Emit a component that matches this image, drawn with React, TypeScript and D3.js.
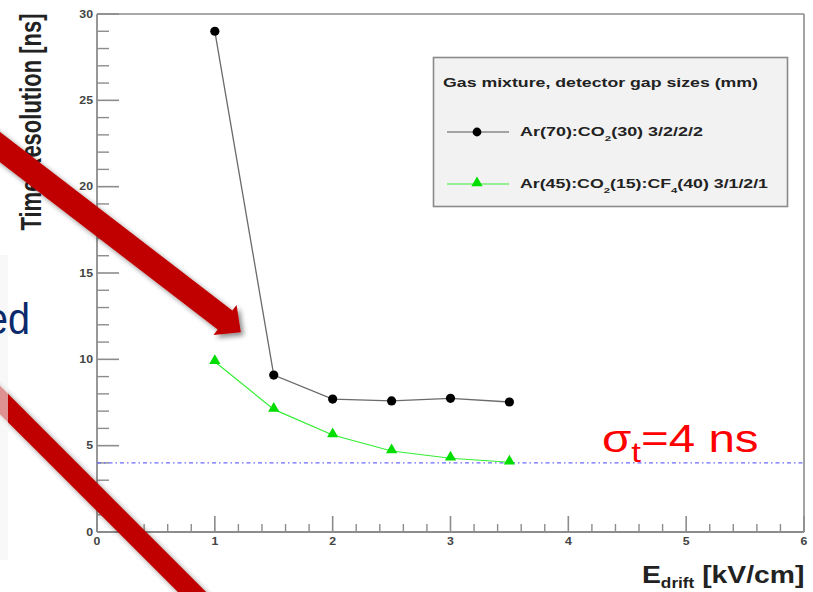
import React from "react";
import * as d3 from "d3";

const W = 813;
const H = 592;

// data
const xValues = [1, 1.5, 2, 2.5, 3, 3.5];
const arCo2 = [29.0, 9.09, 7.7, 7.59, 7.74, 7.53];
const arCo2Cf4 = [9.86, 7.1, 5.62, 4.69, 4.27, 4.04];
const threshold = 4;
const xTickLabels = [0, 1, 2, 3, 4, 5, 6];
const yTickLabels = [0, 5, 10, 15, 20, 25, 30];

const FONT = "Liberation Sans, Arial, Helvetica, sans-serif";
const SX = 1.23; // horizontal stretch of the slide image

function arrowPath(sx: number, sy: number, bx: number, by: number, shaftHalf: number, headHalf: number, headLen: number) {
  const dx = bx - sx, dy = by - sy;
  const len = Math.hypot(dx, dy);
  const ux = dx / len, uy = dy / len;
  const nx = -uy, ny = ux;
  const tx = bx + ux * headLen, ty = by + uy * headLen;
  const p = [
    [sx + nx * shaftHalf, sy + ny * shaftHalf],
    [bx + nx * shaftHalf, by + ny * shaftHalf],
    [bx + nx * headHalf, by + ny * headHalf],
    [tx, ty],
    [bx - nx * headHalf, by - ny * headHalf],
    [bx - nx * shaftHalf, by - ny * shaftHalf],
    [sx - nx * shaftHalf, sy - ny * shaftHalf],
  ];
  return "M" + p.map((q) => q.join(",")).join("L") + "Z";
}

export default function App() {
  const x = d3.scaleLinear().domain([0, 6]).range([97, 804]);
  const y = d3.scaleLinear().domain([0, 30]).range([532, 14]);

  const xMinor = d3.range(0, 6.001, 0.2).filter((v) => Math.abs(v - Math.round(v)) > 1e-6);
  const yMinor = d3.range(0, 30.001, 1).filter((v) => v % 5 !== 0);

  const line = d3
    .line<number>()
    .x((_, i) => x(xValues[i]))
    .y((d) => y(d));

  const tri = d3.symbol().type(d3.symbolTriangle).size(55)();

  const axisColor = "#8c8c8c";

  return (
    <svg width={W} height={H} style={{ position: "absolute", left: 0, top: 0, background: "#fff" }}>
      <defs>
        <filter id="shadow" x="-20%" y="-20%" width="140%" height="140%">
          <feDropShadow dx="3" dy="3" stdDeviation="2.5" floodColor="#000" floodOpacity="0.45" />
        </filter>
      </defs>
      <rect x={0} y={0} width={W} height={H} fill="#fff" />

      {/* frame */}
      <line x1={x(0)} x2={x(6)} y1={y(30)} y2={y(30)} stroke={axisColor} strokeWidth={1.6} />
      <line x1={x(6)} x2={x(6)} y1={y(30)} y2={y(0)} stroke={axisColor} strokeWidth={1.6} />
      <line x1={x(0)} x2={x(6)} y1={y(0)} y2={y(0)} stroke={axisColor} strokeWidth={1.8} />
      <line x1={x(0)} x2={x(0)} y1={y(30)} y2={y(0)} stroke={axisColor} strokeWidth={1.8} />

      {/* x ticks */}
      {xTickLabels.map((v) => (
        <g key={"xt" + v}>
          <line x1={x(v)} x2={x(v)} y1={y(0)} y2={y(0) - 16} stroke={axisColor} strokeWidth={1.6} />
          <text
            transform={`translate(${x(v)},545) scale(${SX},1)`}
            textAnchor="middle"
            fontFamily={FONT}
            fontWeight="bold"
            fontSize={10}
            fill="#444"
          >
            {v}
          </text>
        </g>
      ))}
      {xMinor.map((v, i) => (
        <line key={"xm" + i} x1={x(v)} x2={x(v)} y1={y(0)} y2={y(0) - 8} stroke={axisColor} strokeWidth={1.4} />
      ))}

      {/* y ticks */}
      {yTickLabels.map((v) => (
        <g key={"yt" + v}>
          <line x1={x(0)} x2={x(0) + 22} y1={y(v)} y2={y(v)} stroke={axisColor} strokeWidth={1.6} />
          <text
            transform={`translate(93,${y(v) + 3.5}) scale(${SX},1)`}
            textAnchor="end"
            fontFamily={FONT}
            fontWeight="bold"
            fontSize={10}
            fill="#444"
          >
            {v}
          </text>
        </g>
      ))}
      {yMinor.map((v) => (
        <line key={"ym" + v} x1={x(0)} x2={x(0) + 12} y1={y(v)} y2={y(v)} stroke={axisColor} strokeWidth={1.4} />
      ))}

      {/* threshold line */}
      <line
        x1={x(0)}
        x2={x(6)}
        y1={y(threshold)}
        y2={y(threshold)}
        stroke="#6a6aff"
        strokeWidth={1.2}
        strokeDasharray="4 3 1.5 3"
      />

      {/* series 1 */}
      <path d={line(arCo2) || ""} fill="none" stroke="#6a6a6a" strokeWidth={1.3} />
      {arCo2.map((v, i) => (
        <circle key={"c" + i} cx={x(xValues[i])} cy={y(v)} r={4.6} fill="#000" />
      ))}

      {/* series 2 */}
      <path d={line(arCo2Cf4) || ""} fill="none" stroke="#33ee33" strokeWidth={1.2} />
      {arCo2Cf4.map((v, i) => (
        <path key={"t" + i} d={tri || ""} transform={`translate(${x(xValues[i])},${y(v) - 1})`} fill="#00dd00" />
      ))}

      {/* legend */}
      <rect x={433.5} y={57.5} width={354} height={149} fill="#f2f2f2" stroke="#8a8a8a" strokeWidth={1.6} />
      <text x={443} y={87} fontFamily={FONT} fontWeight="bold" fontSize={12.5} fill="#222" textLength={315} lengthAdjust="spacingAndGlyphs">
        Gas mixture, detector gap sizes (mm)
      </text>
      <line x1={447} x2={509} y1={132} y2={132} stroke="#555" strokeWidth={1.2} />
      <circle cx={477} cy={132} r={4.4} fill="#000" />
      <text x={520} y={136} fontFamily={FONT} fontWeight="bold" fontSize={12.5} fill="#222" textLength={183} lengthAdjust="spacingAndGlyphs">
        Ar(70):CO<tspan fontSize={8} dy={5}>2</tspan>
        <tspan dy={-5}>(30) 3/2/2/2</tspan>
      </text>
      <line x1={447} x2={509} y1={184} y2={184} stroke="#33ee33" strokeWidth={1.2} />
      <path d={tri || ""} transform={`translate(477,183)`} fill="#00dd00" />
      <text x={520} y={188} fontFamily={FONT} fontWeight="bold" fontSize={12.5} fill="#222" textLength={248} lengthAdjust="spacingAndGlyphs">
        Ar(45):CO<tspan fontSize={8} dy={5}>2</tspan>
        <tspan dy={-5}>(15):CF</tspan>
        <tspan fontSize={8} dy={5}>4</tspan>
        <tspan dy={-5}>(40) 3/1/2/1</tspan>
      </text>

      {/* axis titles */}
      <text
        transform={`translate(41,122) scale(1.3,1) rotate(-90)`}
        textAnchor="middle"
        fontFamily={FONT}
        fontWeight="bold"
        fontSize={22}
        fill="#222"
      >
        Time Resolution [ns]
      </text>
      <text
        transform={`translate(642,583) scale(${SX},1)`}
        fontFamily={FONT}
        fontWeight="bold"
        fontSize={23}
        fill="#222"
      >
        E<tspan fontSize={14} dy={5}>drift</tspan>
        <tspan dy={-5}> [kV/cm]</tspan>
      </text>

      {/* annotation */}
      <text transform={`translate(602,452) scale(1.25,1)`} fontFamily={FONT} fontSize={38} fill="#ff0000">
        σ<tspan fontSize={28} dy={10}>t</tspan>
        <tspan dy={-10}>=4 ns</tspan>
      </text>

      {/* slide decorations: arrows */}
      <g filter="url(#shadow)">
        <path d={arrowPath(-30, 124, 225, 320, 12, 19, 20)} fill="#c00000" />
        <path d={arrowPath(-40, 360, 260, 660, 10, 10, 0)} fill="#c00000" />
      </g>
      <rect x={0} y={255} width={8} height={305} fill="#f4f4f4" opacity={0.6} />
      <text transform={`translate(30,334) scale(0.88,1)`} textAnchor="end" fontFamily={FONT} fontSize={45} fill="#0b2a6b">
        ed
      </text>
    </svg>
  );
}
